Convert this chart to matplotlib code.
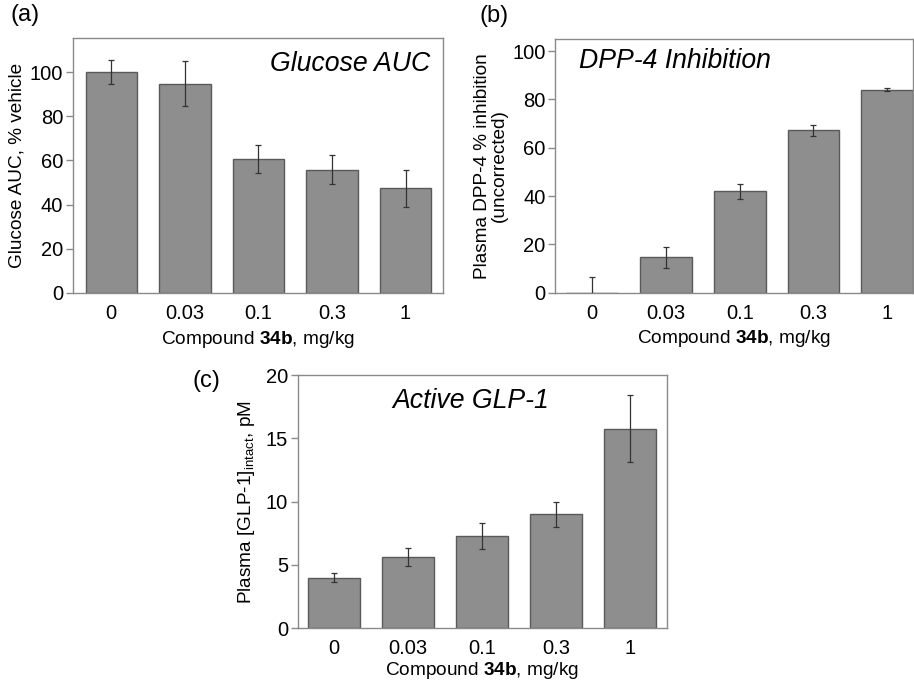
import matplotlib
matplotlib.use('Agg')
import matplotlib.pyplot as plt

# fonts: Arial-like look
matplotlib.rc('font', family='Liberation Sans', size=12)
matplotlib.rc('mathtext', fontset='custom', rm='Liberation Sans',
              bf='Liberation Sans:bold', it='Liberation Sans:italic')

doses = ['0', '0.03', '0.1', '0.3', '1']

glucose_auc = [100, 94.7, 60.6, 55.7, 47.4]
glucose_err = [5.6, 10.3, 6.4, 6.6, 8.3]

dpp4_inh = [0, 14.6, 42.0, 67.2, 84.1]
dpp4_err = [6.6, 4.2, 3.1, 2.4, 0.6]

glp1 = [4.0, 5.6, 7.3, 9.0, 15.75]
glp1_err = [0.34, 0.72, 1.04, 0.98, 2.65]

bar_color = '#8e8e8e'
edge_color = '#5a5a5a'
frame_color = '#8a8a8a'
xlabel = r'Compound $\mathbf{34b}$, mg/kg'
label_fs = 13.7
title_fs = 19.2


def panel(ax, vals, errs, ylim, yticks, xlim, xpad=4):
    x = range(len(doses))
    ax.bar(x, vals, width=0.70, color=bar_color, edgecolor=edge_color, linewidth=1.0, zorder=2)
    ax.errorbar(x, vals, yerr=errs, fmt='none', ecolor='#333333', elinewidth=0.9,
                capsize=2.5, capthick=0.9, zorder=3)
    ax.set_xlim(*xlim)
    ax.set_ylim(*ylim)
    ax.set_yticks(yticks)
    ax.set_xticks(list(x))
    ax.set_xticklabels(doses)
    for s in ax.spines.values():
        s.set_color(frame_color)
        s.set_linewidth(1.0)
    ax.tick_params(axis='x', length=0, pad=8, labelsize=14.5)
    ax.tick_params(axis='y', length=5, color=frame_color, width=1.0, pad=2, labelsize=14.5)
    ax.set_xlabel(xlabel, fontsize=label_fs, labelpad=xpad)


fig = plt.figure(figsize=(9.14, 6.81), dpi=100)

# (a)
ax1 = fig.add_axes([0.0799, 0.5698, 0.4048, 0.3744])
panel(ax1, glucose_auc, glucose_err, (0, 115.4), range(0, 101, 20), (-0.52, 4.51))
ax1.set_ylabel('Glucose AUC, % vehicle', fontsize=label_fs, labelpad=3)
ax1.text(0.965, 0.87, 'Glucose AUC', transform=ax1.transAxes, ha='right', va='baseline',
         fontsize=title_fs, style='italic')
fig.text(11 / 914, 1 - 4 / 681, '(a)', fontsize=17, va='top')

# (b)
ax2 = fig.add_axes([0.6076, 0.5702, 0.3913, 0.3725])
panel(ax2, dpp4_inh, dpp4_err, (0, 105), range(0, 101, 20), (-0.50, 4.35))
ax2.set_ylabel('Plasma DPP-4 % inhibition\n(uncorrected)', fontsize=label_fs, labelpad=3,
               linespacing=1.0)
ax2.text(0.065, 0.885, 'DPP-4 Inhibition', transform=ax2.transAxes, ha='left', va='baseline',
         fontsize=title_fs, style='italic')
fig.text(480 / 914, 1 - 5 / 681, '(b)', fontsize=17, va='top')

# (c)
ax3 = fig.add_axes([0.3257, 0.0774, 0.4037, 0.3719])
panel(ax3, glp1, glp1_err, (0, 20), range(0, 21, 5), (-0.49, 4.5), xpad=1)
ax3.set_ylabel(r'Plasma [GLP-1]$_{\mathrm{intact}}$, pM', fontsize=label_fs, labelpad=6)
ax3.text(0.47, 0.87, 'Active GLP-1', transform=ax3.transAxes, ha='center', va='baseline',
         fontsize=title_fs, style='italic')
fig.text(192 / 914, 1 - 370 / 681, '(c)', fontsize=17, va='top')

fig.savefig('out.png', dpi=100)
